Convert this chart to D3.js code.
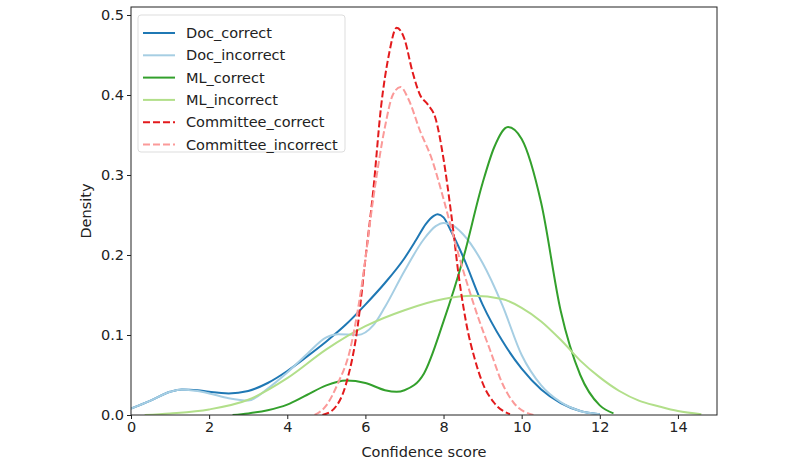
<!DOCTYPE html>
<html>
<head>
<meta charset="utf-8">
<script src="https://cdn.jsdelivr.net/npm/d3@7"></script>
<style>
    body { margin: 0; background: #fff; }
    text { font-family: "DejaVu Sans", sans-serif; }
</style>
</head>
<body>
<div id="plot-container"></div>
<script>
// density curves, [confidence score, density]
const docCorrect = [[0,0.008],[0.5,0.018],[1.0,0.029],[1.3,0.032],[1.7,0.031],[2.0,0.029],[2.5,0.027],[3.0,0.030],[3.5,0.040],
    [4.0,0.055],[4.5,0.073],[5.0,0.092],[5.5,0.113],[6.0,0.138],[6.5,0.165],[7.0,0.196],[7.3,0.219],[7.55,0.239],[7.75,0.249],
    [7.85,0.251],[8.0,0.247],[8.2,0.229],[8.5,0.198],[9.0,0.138],[9.5,0.093],[10.0,0.058],[10.5,0.032],[11.0,0.015],
    [11.5,0.005],[12.0,0.001]];
const docIncorrect = [[0,0.008],[0.5,0.018],[1.0,0.029],[1.3,0.032],[1.7,0.030],[2.0,0.027],[2.5,0.021],[3.0,0.018],[3.5,0.033],
    [4.0,0.053],[4.5,0.076],[5.0,0.097],[5.3,0.101],[5.8,0.100],[6.2,0.112],[6.5,0.135],[7.0,0.180],[7.5,0.220],[7.8,0.236],
    [8.0,0.240],[8.2,0.238],[8.5,0.226],[9.0,0.190],[9.5,0.138],[10.0,0.075],[10.5,0.037],[11.0,0.016],[11.5,0.005],[12.0,0.001]];
const mlCorrect = [[2.6,0.0],[3.0,0.002],[3.5,0.006],[4.0,0.013],[4.5,0.025],[5.0,0.037],[5.5,0.043],[6.0,0.040],[6.5,0.031],
    [6.8,0.029],[7.0,0.031],[7.5,0.052],[8.0,0.117],[8.5,0.195],[9.0,0.290],[9.3,0.335],[9.65,0.360],[10.0,0.345],[10.5,0.265],
    [11.0,0.130],[11.5,0.050],[12.0,0.012],[12.35,0.002]];
const mlIncorrect = [[0.35,0.0],[1.0,0.002],[2.0,0.007],[3.0,0.019],[4.0,0.046],[5.0,0.082],[6.0,0.111],[7.0,0.131],[8.0,0.145],
    [8.75,0.149],[9.5,0.145],[10.0,0.134],[10.5,0.117],[11.0,0.094],[11.5,0.068],[12.0,0.047],[12.5,0.030],[13.0,0.018],
    [13.5,0.011],[14.0,0.005],[14.6,0.001]];
const committeeCorrect = [[4.9,0.0],[5.2,0.008],[5.5,0.038],[5.8,0.11],[6.0,0.195],[6.2,0.28],[6.4,0.385],[6.6,0.45],[6.8,0.484],
    [7.0,0.47],[7.2,0.43],[7.4,0.40],[7.6,0.388],[7.8,0.37],[8.0,0.32],[8.2,0.25],[8.4,0.17],[8.6,0.11],[8.8,0.07],[9.0,0.04],
    [9.3,0.015],[9.7,0.001]];
const committeeIncorrect = [[4.7,0.0],[5.0,0.012],[5.3,0.04],[5.6,0.08],[5.9,0.16],[6.2,0.27],[6.5,0.36],[6.7,0.40],[6.9,0.41],
    [7.1,0.395],[7.4,0.355],[7.7,0.32],[8.0,0.27],[8.3,0.215],[8.6,0.165],[8.9,0.12],[9.2,0.08],[9.5,0.04],[9.8,0.015],[10.3,0.0]];

const seriesNames = ["Doc_correct", "Doc_incorrect", "ML_correct", "ML_incorrect", "Committee_correct", "Committee_incorrect"];
const seriesData = [docCorrect, docIncorrect, mlCorrect, mlIncorrect, committeeCorrect, committeeIncorrect];
const seriesColors = ["#1f78b4", "#a6cee3", "#33a02c", "#b2df8a", "#e31a1c", "#fb9a99"];
const seriesDashed = [false, false, false, false, true, true];

const xTicks = [0, 2, 4, 6, 8, 10, 12, 14];
const yTicks = [0.0, 0.1, 0.2, 0.3, 0.4, 0.5];

const margin = { top: 7, right: 83, bottom: 45, left: 131 };
const width = 800 - margin.left - margin.right;
const height = 460 - margin.top - margin.bottom;

const svg = d3.select("#plot-container")
    .append("svg")
    .attr("width", 800)
    .attr("height", 460)
    .append("g")
    .attr("transform", "translate(" + margin.left + "," + margin.top + ")");

const xScale = d3.scaleLinear().domain([0, 15]).range([0, width]);
const yScale = d3.scaleLinear().domain([0, 0.51]).range([height, 0]);

svg.append("defs").append("clipPath").attr("id", "clip")
    .append("rect").attr("width", width).attr("height", height);

const line = d3.line()
    .x(d => xScale(d[0]))
    .y(d => yScale(d[1]))
    .curve(d3.curveMonotoneX);

svg.append("g")
    .attr("clip-path", "url(#clip)")
    .selectAll("path")
    .data(seriesData)
    .enter()
    .append("path")
    .attr("d", line)
    .attr("fill", "none")
    .attr("stroke", (d, i) => seriesColors[i])
    .attr("stroke-width", 2)
    .attr("stroke-dasharray", (d, i) => seriesDashed[i] ? "7,3" : null);

// axes
const xAxis = svg.append("g")
    .attr("transform", "translate(0," + height + ")")
    .call(d3.axisBottom(xScale).tickValues(xTicks).tickFormat(d3.format("d")).tickSizeOuter(0).tickSize(4).tickPadding(3));
const yAxis = svg.append("g")
    .call(d3.axisLeft(yScale).tickValues(yTicks).tickFormat(d3.format(".1f")).tickSizeOuter(0).tickSize(4).tickPadding(3));
[xAxis, yAxis].forEach(a => {
    a.select(".domain").remove();
    a.selectAll("line").attr("stroke", "#222");
    a.selectAll("text").style("font-size", "14.5px").attr("fill", "#222");
});

svg.append("rect")
    .attr("width", width)
    .attr("height", height)
    .attr("fill", "none")
    .attr("stroke", "#222")
    .attr("stroke-width", 1);

svg.append("text")
    .attr("text-anchor", "middle")
    .attr("x", width / 2)
    .attr("y", height + 42)
    .style("font-size", "14.5px")
    .attr("fill", "#222")
    .text("Confidence score");

svg.append("text")
    .attr("text-anchor", "middle")
    .attr("x", -height / 2)
    .attr("y", -40)
    .attr("transform", "rotate(-90)")
    .style("font-size", "14.5px")
    .attr("fill", "#222")
    .text("Density");

// legend
const legend = svg.append("g").attr("transform", "translate(7,8)");
legend.append("rect")
    .attr("width", 207)
    .attr("height", 137)
    .attr("rx", 3)
    .attr("fill", "#fff")
    .attr("fill-opacity", 0.8)
    .attr("stroke", "#ddd");

const items = legend.selectAll(".item")
    .data(seriesNames)
    .enter()
    .append("g")
    .attr("class", "item")
    .attr("transform", (d, i) => `translate(0,${18 + i * 22.3})`);

items.append("line")
    .attr("x1", 5).attr("x2", 37)
    .attr("stroke", (d, i) => seriesColors[i])
    .attr("stroke-width", 2)
    .attr("stroke-dasharray", (d, i) => seriesDashed[i] ? "7,3" : null);

items.append("text")
    .attr("x", 48)
    .attr("dy", "0.35em")
    .style("font-size", "14.5px")
    .attr("fill", "#222")
    .text(d => d);
</script>
</body>
</html>
